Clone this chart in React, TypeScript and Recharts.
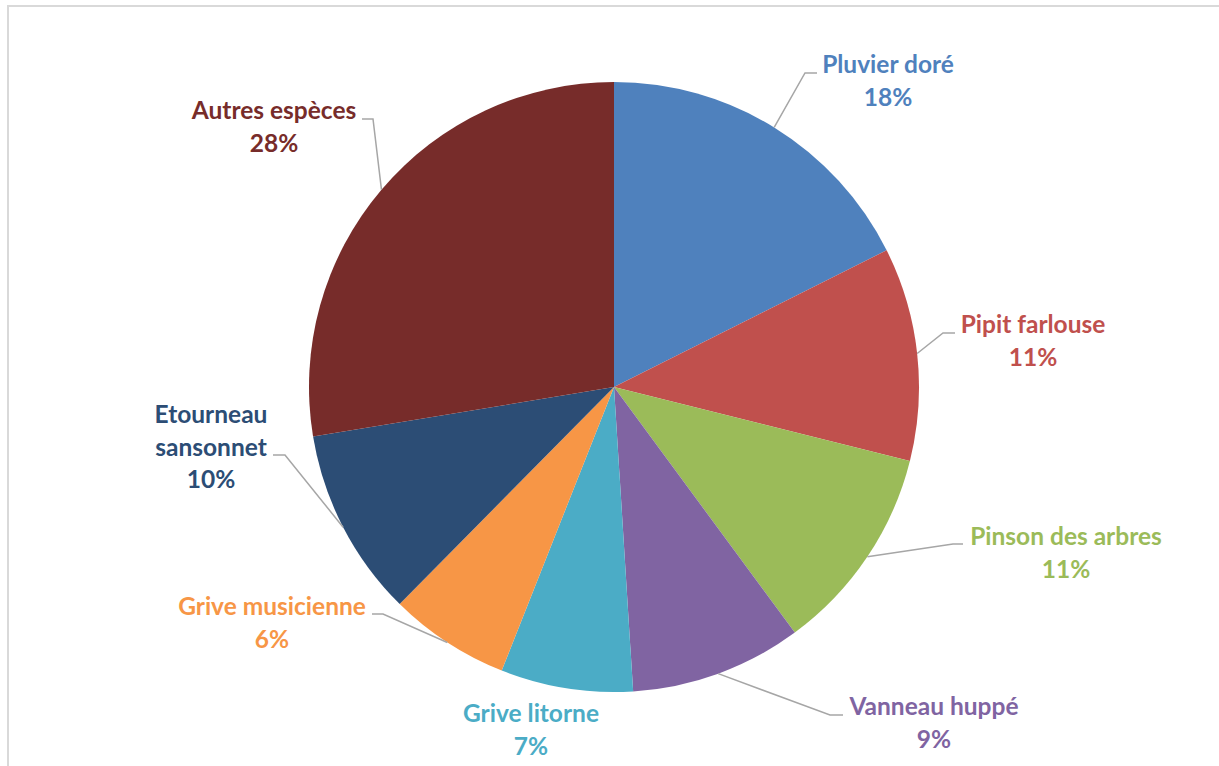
import React from 'react';
import { PieChart, Pie, Cell } from 'recharts';

const categories = [
  'Pluvier doré',
  'Pipit farlouse',
  'Pinson des arbres',
  'Vanneau huppé',
  'Grive litorne',
  'Grive musicienne',
  'Etourneau sansonnet',
  'Autres espèces',
];
const values = [17.6, 11.3, 11.0, 9.1, 7.0, 6.4, 10.0, 27.6];
const colors = ['#4F81BD', '#C0504D', '#9BBB59', '#8064A2', '#4BACC6', '#F79646', '#2C4D75', '#772C2A'];
// label text lines (name split as in the original)
const labelLines: string[][] = [
  ['Pluvier doré'],
  ['Pipit farlouse'],
  ['Pinson des arbres'],
  ['Vanneau huppé'],
  ['Grive litorne'],
  ['Grive musicienne'],
  ['Etourneau', 'sansonnet'],
  ['Autres espèces'],
];

// label layout, offsets relative to pie centre: text centre x, first baseline y, elbow, horizontal end x
const labelLayout = [
  { tx: 274, ty: -314, ex: 191, ey: -314, hx: 203 },
  { tx: 419, ty: -54, ex: 329, ey: -54, hx: 341 },
  { tx: 452, ty: 158, ex: 339, ey: 157, hx: 349 },
  { tx: 320, ty: 328, ex: 216, ey: 328, hx: 229 },
  { tx: -83, ty: 335, ex: null, ey: null, hx: null },
  { tx: -342, ty: 228, ex: -231, ey: 227, hx: -242 },
  { tx: -403, ty: 36, ex: -329, ey: 68, hx: -341 },
  { tx: -340, ty: -268, ex: -241, ey: -268, hx: -252 },
];

const data = categories.map((name, i) => ({ name, value: values[i] }));

const RAD = Math.PI / 180;
const FONT = 'Lato, "Open Sans", sans-serif';
const LINE_H = 32.5;

const renderLabel = (props: any) => {
  const { cx, cy, midAngle, outerRadius, percent, index } = props;
  const lay = labelLayout[index];
  const color = colors[index];
  const sx = cx + outerRadius * Math.cos(-midAngle * RAD);
  const sy = cy + outerRadius * Math.sin(-midAngle * RAD);
  const lines = [...labelLines[index], `${Math.round(percent * 100)}%`];
  return (
    <g key={`lbl-${index}`}>
      {lay.ex !== null && (
        <polyline
          points={`${sx},${sy} ${cx + lay.ex},${cy + (lay.ey as number)} ${cx + (lay.hx as number)},${cy + (lay.ey as number)}`}
          fill="none"
          stroke="#A6A6A6"
          strokeWidth={1.5}
        />
      )}
      <text
        x={cx + lay.tx}
        y={cy + lay.ty}
        textAnchor="middle"
        fill={color}
        fontFamily={FONT}
        fontWeight={700}
        fontSize={24.5}
      >
        {lines.map((l, k) => (
          <tspan key={k} x={cx + lay.tx} y={cy + lay.ty + k * LINE_H}>
            {l}
          </tspan>
        ))}
      </text>
    </g>
  );
};

export default function App() {
  return (
    <div style={{ position: 'absolute', left: 0, top: 0, width: 1219, height: 766, overflow: 'hidden', background: '#fff' }}>
      <div
        style={{
          position: 'absolute',
          left: 7,
          top: 5,
          width: 1260,
          height: 800,
          border: '2px solid #D9D9D9',
          boxSizing: 'border-box',
        }}
      />
      <div style={{ position: 'absolute', left: 0, top: 0 }}>
        <PieChart width={1219} height={766} margin={{ top: 0, right: 0, bottom: 0, left: 0 }}>
          <Pie
            data={data}
            dataKey="value"
            nameKey="name"
            cx={614}
            cy={387}
            outerRadius={305}
            startAngle={90}
            endAngle={-270}
            stroke="none"
            label={renderLabel}
            labelLine={false}
            isAnimationActive={false}
          >
            {data.map((d, i) => (
              <Cell key={d.name} fill={colors[i]} />
            ))}
          </Pie>
        </PieChart>
      </div>
    </div>
  );
}
